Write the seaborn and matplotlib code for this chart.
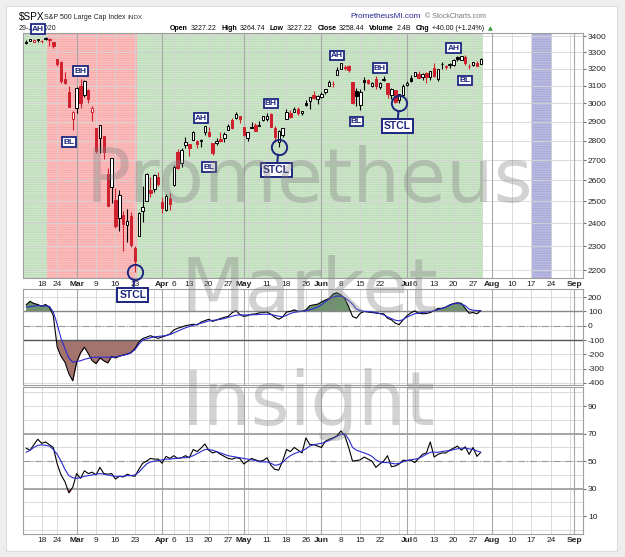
import numpy as np
import pandas as pd
import matplotlib
matplotlib.use("Agg")
import matplotlib.pyplot as plt
import seaborn as sns
from matplotlib.patches import Rectangle
from matplotlib.ticker import FixedLocator, NullLocator, FuncFormatter

# ---------------- data ----------------
cal_start, cal_end = "2020-02-11", "2020-09-04"
market_holidays = ["2020-02-17", "2020-04-10", "2020-05-25", "2020-07-03", "2020-09-07"]

prev_close0 = 3352.1
opens = [3365.9,3370.5,3365.9,3378.1,3369.0,3380.4,3380.5,3360.5,3257.6,3238.9,3139.9,3062.5,2916.9,
 2974.3,3096.5,3045.8,3075.7,2954.2,2863.9,2813.5,2825.6,2630.9,2570.0,2508.6,2425.7,2436.5,2393.5,2431.9,2290.7,2344.4,2457.8,2501.3,2555.9,2559.0,2614.7,
 2498.1,2458.5,2514.9,2578.3,2738.7,2685.0,2777.0,2782.5,2805.1,2795.6,2799.3,2842.4,2845.6,2784.8,2787.9,2810.4,2812.6,2854.7,2910.0,2918.5,2930.9,
 2869.1,2815.0,2868.9,2883.1,2878.3,2908.8,2915.5,2939.5,2865.9,2794.5,2830.0,2913.9,2948.6,2953.6,2970.0,2948.1,3004.1,3015.7,3046.6,3025.2,
 3038.8,3064.2,3098.9,3111.6,3163.8,3199.9,3213.3,3213.4,3123.5,3071.0,2993.8,3131.0,3136.1,3101.6,3140.3,3094.4,3138.7,3114.4,3046.6,3073.2,3018.6,3050.2,
 3105.9,3143.6,3155.3,3166.4,3153.1,3176.2,3152.5,3205.1,3141.1,3226.0,3208.4,3224.2,3224.3,3268.5,3254.9,3271.6,3218.6,3219.8,3234.3,3227.2]
highs = [3375.6,3381.5,3385.1,3380.7,3375.0,3393.5,3389.2,3360.8,3259.8,3246.9,3182.5,3097.1,2959.7,
 3091.0,3136.7,3131.0,3083.0,2985.9,2863.9,2882.6,2825.6,2661.0,2711.3,2563.0,2553.9,2453.6,2467.0,2453.0,2300.7,2449.7,2571.4,2637.0,2615.9,2631.8,2641.4,
 2522.8,2533.2,2538.2,2676.9,2756.9,2760.8,2818.6,2782.5,2851.9,2801.9,2806.5,2879.2,2869.0,2785.5,2815.1,2844.9,2842.7,2887.7,2921.2,2954.9,2930.9,
 2869.1,2844.2,2898.2,2891.1,2901.9,2932.2,2944.3,2945.8,2874.1,2852.8,2865.0,2968.1,2964.2,2980.3,2978.5,2956.8,3021.7,3036.3,3068.7,3049.2,
 3062.2,3081.1,3130.9,3128.9,3211.7,3233.1,3222.7,3223.3,3123.5,3088.4,3079.8,3153.5,3141.2,3120.0,3155.5,3120.9,3154.9,3115.0,3086.3,3073.7,3053.9,3111.5,
 3128.4,3165.8,3182.6,3184.2,3171.8,3179.8,3186.8,3235.3,3201.0,3238.3,3220.4,3233.5,3258.6,3277.3,3279.3,3280.0,3227.3,3241.4,3243.7,3264.7]
lows = [3352.7,3369.7,3360.5,3366.2,3355.6,3378.8,3341.0,3328.5,3214.7,3118.8,3109.0,2977.4,2855.8,
 2945.2,2976.6,3034.4,2999.8,2901.5,2734.4,2734.0,2707.2,2478.9,2492.4,2380.9,2367.0,2280.5,2319.8,2295.6,2191.9,2344.4,2407.5,2500.7,2520.0,2545.3,2571.2,
 2447.5,2455.8,2460.0,2574.6,2657.7,2663.3,2762.4,2721.2,2805.1,2761.5,2764.3,2830.9,2820.4,2727.1,2776.0,2794.3,2791.8,2852.9,2860.7,2912.2,2892.5,
 2821.6,2797.9,2863.6,2847.7,2876.5,2902.9,2903.4,2869.6,2793.2,2766.6,2816.8,2913.9,2922.4,2953.6,2938.6,2933.6,2988.2,2969.8,3023.4,2998.6,
 3031.5,3051.6,3098.9,3090.4,3163.8,3196.0,3193.1,3181.5,2999.5,2984.5,2965.7,3076.1,3108.0,3093.5,3083.1,3079.4,3127.1,3032.1,3024.0,3004.6,2999.7,3047.8,
 3101.2,3124.5,3155.3,3142.9,3136.5,3115.7,3136.2,3149.4,3127.7,3200.8,3198.6,3205.7,3215.2,3247.8,3253.1,3222.7,3200.1,3214.3,3216.2,3227.2]
closes = [3357.8,3379.5,3373.9,3380.2,3370.3,3386.2,3373.2,3337.8,3225.9,3128.2,3116.4,2978.8,2954.2,
 3090.2,3003.4,3130.1,3023.9,2972.4,2746.6,2882.2,2741.4,2480.6,2711.0,2386.1,2529.2,2398.1,2409.4,2304.9,2237.4,2447.3,2475.6,2630.1,2541.5,2626.7,2584.6,
 2470.5,2526.9,2488.7,2663.7,2659.4,2750.0,2789.8,2761.6,2846.1,2783.4,2799.6,2874.6,2823.2,2736.6,2799.3,2797.8,2836.7,2878.5,2863.4,2939.5,2912.4,
 2830.7,2842.7,2868.4,2848.4,2881.2,2929.8,2930.3,2870.1,2820.0,2852.5,2863.7,2953.9,2922.9,2971.6,2948.5,2955.5,2991.8,3036.1,3029.7,3044.3,
 3055.7,3080.8,3122.9,3112.4,3193.9,3232.4,3207.2,3190.1,3002.1,3041.3,3066.6,3124.7,3113.5,3115.3,3097.7,3117.9,3131.3,3050.3,3083.8,3009.1,3053.2,3100.3,
 3115.9,3130.0,3179.7,3145.3,3169.9,3152.1,3185.0,3155.2,3197.5,3226.6,3215.6,3224.7,3251.8,3257.3,3276.0,3235.7,3215.6,3239.4,3218.4,3258.4]

cci = [145,170,155,148,135,148,128,70,-150,-215,-255,-335,-385,
 -255,-190,-150,-195,-245,-265,-225,-245,-260,-215,-225,-212,-205,-198,-188,-160,-115,-90,-80,-70,-80,-88,
 -78,-70,-58,-30,-18,-10,0,5,10,5,25,35,45,30,40,50,58,65,90,105,78,
 65,70,80,82,90,92,95,80,60,45,60,95,100,110,100,102,110,140,145,150,
 165,179,190,221,230,214,190,133,64,52,87,99,95,92,88,85,83,52,41,18,7,41,
 69,90,103,87,83,85,92,105,121,121,130,145,155,160,156,121,87,92,83,105]
cci_signal = [130,133,137,140,139,137,135,95,10,-90,-160,-225,-255,
 -250,-245,-235,-228,-222,-220,-220,-220,-220,-220,-218,-212,-207,-200,-188,-168,-130,-100,-92,-84,-78,-75,
 -72,-68,-62,-50,-38,-26,-15,-5,3,10,17,25,33,37,40,44,50,58,66,73,75,
 75,75,76,77,78,80,80,78,72,66,62,72,85,93,97,100,103,110,120,130,
 145,168,185,200,207,205,195,175,150,116,105,100,99,96,92,85,75,62,50,38,34,42,
 60,72,83,88,92,95,99,104,112,120,130,142,152,156,150,140,115,108,106,105]
rsi = [59.5,58,62,66,63,64,62,60,48,40,35,27,31,
 41,37.5,43,41,42,40,45.5,41,40.5,41,37,39,38.5,40.5,39.5,39,44,48.5,50,52,51.5,51.5,
 48.5,53.5,52,54,52,52.5,54,52.5,58.5,57,59.5,62.5,58,56,57,55,53.5,52,51.5,52.5,52,
 48,50,52,51,50,50.5,52.5,47,44,43.5,50,58.5,57,60,58,56,67,62,62,61,
 60,64.5,66,67,68.5,72,68.5,60,50,50.5,51,53,51.5,50,45.5,48,50,54,46,46.5,48,50.7,
 50.5,50.7,49,52,55,56,64,53,55,56,56,58,59.5,61,58,60.5,55,60,53.5,56.5]
rsi_signal = [56.5,58,60,61.5,62,61.5,61,58.5,55,50,44,39.5,38,
 37.5,38,39,39.5,40,40.5,41,40.5,40,39.5,39,39,39,39.5,39.5,40,42,45,48,49.5,50,50.5,
 51,51.5,51.5,52,52,52.5,52.5,53,54,55.5,57,58.5,58.5,58,57,56,55,54,53.5,53,52.5,
 52,51.5,51,50.5,49.5,49.5,49.5,48.5,47,47.5,49,52,54,55.5,56.5,57.5,59,61,62,62.5,
 63,64,65,66.5,68,69.5,70,66,60,58,57,56,55,53.5,51,49.5,49,49,48.5,48,48.5,49.5,
 50.5,51,51.5,52,53.5,55,56.5,56.5,56.5,57,57.5,57.5,58.5,59,59.5,59.5,59,58.5,57.5,56.5]

tick_dates = ["2020-02-18","2020-02-24","2020-03-02","2020-03-09","2020-03-16","2020-03-23","2020-04-01",
 "2020-04-06","2020-04-13","2020-04-20","2020-04-27","2020-05-01","2020-05-11","2020-05-18","2020-05-26",
 "2020-06-01","2020-06-08","2020-06-15","2020-06-22","2020-07-01","2020-07-06","2020-07-13","2020-07-20",
 "2020-07-27","2020-08-03","2020-08-10","2020-08-17","2020-08-24","2020-09-01"]
tick_labels = ["18","24","Mar","9","16","23","Apr","6","13","20","27","May","11","18","26","Jun","8","15","22",
 "Jul","6","13","20","27","Aug","10","17","24","Sep"]

header_quote = [("Open", "3227.22"), ("High", "3264.74"), ("Low", "3227.22"), ("Close", "3258.44"),
                ("Volume", "2.4B"), ("Chg", "+40.00 (+1.24%)")]

# market regime shading (first date, last date)
regimes = [("up", "2020-02-11", "2020-02-19"), ("down", "2020-02-20", "2020-03-23"), ("up", "2020-03-24", "2020-07-29")]
future_window = ("2020-08-17", "2020-08-24")

# pattern labels: (text, date, price level)
labels = [("AH", "2020-02-14", 3445), ("BH", "2020-03-03", 3186), ("BL", "2020-02-27", 2791),
          ("AH", "2020-04-16", 2919), ("BL", "2020-04-20", 2665), ("BH", "2020-05-12", 2999),
          ("AH", "2020-06-05", 3279), ("BL", "2020-06-12", 2900), ("BH", "2020-06-22", 3203),
          ("AH", "2020-07-20", 3325), ("BL", "2020-07-23", 3130)]
stcl_dates = ["2020-03-23", "2020-05-14", "2020-06-29"]

# ---------------- style ----------------
sns.set_style("white")
plt.rcParams["font.family"] = ["Liberation Sans", "DejaVu Sans"]
plt.rcParams["hatch.linewidth"] = 0.45

W, H = 625, 557
fig = plt.figure(figsize=(W / 100, H / 100), dpi=100, facecolor="#eeeeee")
fig.patches.append(Rectangle((6 / W, 1 - 551 / H), (617 - 6) / W, (551 - 6) / H,
                             transform=fig.transFigure, facecolor="white", edgecolor="#dcdcdc", lw=0.8, zorder=-10))

def box(top, bottom):
    return [23 / W, 1 - bottom / H, (583 - 23) / W, (bottom - top) / H]

ax1 = fig.add_axes(box(33, 278))
ax2 = fig.add_axes(box(289, 385))
ax3 = fig.add_axes(box(387, 534))
ax1.set_zorder(3)

cal = pd.bdate_range(cal_start, cal_end)
cal = cal[~cal.isin(pd.to_datetime(market_holidays))]
pos = {d: i for i, d in enumerate(cal)}
P = lambda s: pos[pd.Timestamp(s)]
n = len(closes)
xi = np.arange(n)
XL = (-0.8, 143.3)

week_starts = [i for i in range(1, len(cal)) if cal[i].weekday() < cal[i - 1].weekday()]
month_starts = [i for i in range(1, len(cal)) if cal[i].month != cal[i - 1].month]
tick_idx = [P(d) for d in tick_dates]

navy = "#1c2680"
red = "#d0202e"

for ax in (ax1, ax2, ax3):
    ax.set_xlim(*XL)
    ax.set_facecolor("white")
    for s in ax.spines.values():
        s.set_color("#a0a0a0")
        s.set_linewidth(0.8)
    for w in week_starts:
        ax.axvline(w, color="#d4d4d4", lw=0.6, zorder=0.6)
    for m in month_starts:
        ax.axvline(m, color="#a8a8a8", lw=0.8, zorder=0.6)
    ax.set_axisbelow(True)
    ax.yaxis.tick_right()
    ax.tick_params(axis="y", which="major", labelsize=6, length=2, pad=1.5, color="#777", labelcolor="#222")
    ax.set_xticks(tick_idx)
    ax.set_xticklabels(tick_labels)
    ax.tick_params(axis="x", which="major", length=0, pad=2.2, labelsize=6, labelcolor="#222")
    for t, lab in zip(ax.get_xticklabels(), tick_labels):
        if lab.isalpha():
            t.set_fontweight("bold")
ax2.tick_params(axis="x", labelbottom=False)

# ---------------- price panel ----------------
ax1.set_yscale("log")
ax1.set_ylim(2168, 3420)
ax1.yaxis.set_major_locator(FixedLocator(np.arange(2200, 3401, 100)))
ax1.yaxis.set_major_formatter(FuncFormatter(lambda v, _: f"{v:.0f}"))
ax1.yaxis.set_minor_locator(NullLocator())
ax1.grid(axis="y", color="#d4d4d4", lw=0.6)

shade = {"up": ("#cde6c9", "#b4d8b0"), "down": ("#fdbcbc", "#f3a3a3")}
for k, (kind, a, b) in enumerate(regimes):
    x0 = XL[0] if k == 0 else P(a) - 0.5
    fc, hc = shade[kind]
    ax1.axvspan(x0, P(b) + 0.5, facecolor=fc, edgecolor=hc, hatch="-------", lw=0, zorder=0.2)
ax1.axvspan(P(future_window[0]) + 0.3, P(future_window[1]) + 0.2, facecolor="#b9b9e2", edgecolor="#a2a2d4",
            hatch="-------", lw=0, zorder=0.2)

o, h, l, c = (np.array(v, float) for v in (opens, highs, lows, closes))
prev = np.r_[prev_close0, c[:-1]]
edge = np.where(c >= prev, "black", red)
fillc = np.where(c > o, "white", edge)
ax1.vlines(xi, l, h, colors=edge, lw=0.8, zorder=3)
ax1.bar(xi, np.maximum(np.abs(c - o), 1.5), bottom=np.minimum(o, c), width=0.62,
        color=fillc, edgecolor=edge, linewidth=0.7, zorder=4)

bb = dict(boxstyle="square,pad=0.15", fc="white", ec=navy, lw=1.3)
for txt, d, lvl in labels:
    ax1.text(P(d), lvl, txt, ha="center", va="center", fontsize=6, fontweight="bold", color=navy,
             bbox=bb, zorder=8, clip_on=False)
for d in stcl_dates:
    i = P(d)
    ax1.plot([i], [lows[i]], marker="o", ms=11, mfc="none", mec=navy, mew=1.4, clip_on=False, zorder=9)
    ax1.annotate("STCL", xy=(i, lows[i]), xytext=(-1.5, -16.5), textcoords="offset points",
                 ha="center", va="center", fontsize=7.5, fontweight="bold", color=navy,
                 bbox=dict(boxstyle="square,pad=0.2", fc="white", ec=navy, lw=1.4),
                 arrowprops=dict(arrowstyle="-", color=navy, lw=1.4, shrinkA=0, shrinkB=5.5),
                 annotation_clip=False, zorder=9)

# ---------------- oscillator panel ----------------
cci_a, sig_a = np.array(cci, float), np.array(cci_signal, float)
ax2.set_ylim(-414, 256)
ax2.yaxis.set_major_locator(FixedLocator(np.arange(-400, 201, 100)))
ax2.yaxis.set_major_formatter(FuncFormatter(lambda v, _: f"{v:.0f}"))
ax2.grid(axis="y", color="#d4d4d4", lw=0.6)
ax2.fill_between(xi, cci_a, 100, where=cci_a > 100, interpolate=True, color="#6f936c", lw=0, zorder=1)
ax2.fill_between(xi, cci_a, -100, where=cci_a < -100, interpolate=True, color="#a3736e", lw=0, zorder=1)
ax2.axhline(100, color="#888888", lw=1.0, zorder=1.5)
ax2.axhline(0, color="#999999", lw=0.8, ls="-.", zorder=1.5)
ax2.axhline(-100, color="#555555", lw=1.0, zorder=1.5)
sns.lineplot(x=xi, y=cci_a, ax=ax2, color="black", lw=0.8, legend=False, zorder=3)
sns.lineplot(x=xi, y=sig_a, ax=ax2, color="#2a2ad0", lw=0.8, legend=False, zorder=3)

# ---------------- RSI panel ----------------
rsi_a, rsig_a = np.array(rsi, float), np.array(rsi_signal, float)
ax3.set_ylim(-3, 104)
ax3.yaxis.set_major_locator(FixedLocator([10, 30, 50, 70, 90]))
ax3.yaxis.set_minor_locator(FixedLocator(np.arange(0, 101, 10)))
ax3.yaxis.set_major_formatter(FuncFormatter(lambda v, _: f"{v:.0f}"))
ax3.grid(axis="y", which="both", color="#d4d4d4", lw=0.6)
ax3.tick_params(axis="y", which="minor", length=0)
ax3.fill_between(xi, rsi_a, 30, where=rsi_a < 30, interpolate=True, color=red, lw=0, zorder=1)
ax3.axhline(70, color="#a0a0a0", lw=1.3, zorder=1.5)
ax3.axhline(50, color="#999999", lw=0.8, ls="-.", zorder=1.5)
ax3.axhline(30, color="#a0a0a0", lw=1.3, zorder=1.5)
sns.lineplot(x=xi, y=rsi_a, ax=ax3, color="black", lw=0.8, legend=False, zorder=3)
sns.lineplot(x=xi, y=rsig_a, ax=ax3, color="#2a2ad0", lw=0.8, legend=False, zorder=3)
ax3.set_xticks(np.arange(0, 145), minor=True)
ax3.tick_params(axis="x", which="minor", length=1.5, color="#aaaaaa")
for ax in (ax1, ax2, ax3):
    ax.set_xlim(*XL)
    ax.set_xlabel("")
    ax.set_ylabel("")

# ---------------- header ----------------
def ft(xp, yp, s, **kw):
    kw.setdefault("va", "center")
    kw.setdefault("zorder", 1)
    return fig.text(xp / W, 1 - yp / H, s, **kw)

ft(19, 17, "$SPX", fontsize=7.2, color="black")
ft(44, 17.5, "S&P 500 Large Cap Index", fontsize=5.0, color="#222")
ft(127, 17.5, "INDX", fontsize=4.6, color="#333")
ft(350, 17, "PrometheusMI.com", fontsize=5.9, color="#23238e")
ft(425, 17, "© StockCharts.com", fontsize=5.0, color="#777777")
ft(19, 29, "29-Jul-2020", fontsize=5.0, color="#222")

rend = fig.canvas.get_renderer()
xcur = 170
for lab, val in header_quote:
    t = ft(xcur, 29, lab, fontsize=5.0, color="black", fontweight="bold")
    xcur += t.get_window_extent(renderer=rend).width + 2.5
    t = ft(xcur, 29, val, fontsize=5.0, color="#111")
    xcur += t.get_window_extent(renderer=rend).width + 5
ft(xcur - 2, 29, "▲", fontsize=4.5, color="#2e9e3e", family=["DejaVu Sans"])

# ---------------- watermark ----------------
for yb, word in [(202, "Prometheus"), (312, "Market"), (425, "Insight")]:
    fig.text(309 / W, 1 - yb / H, word, fontsize=54, family=["DejaVu Sans"], color="#808080",
             alpha=0.35, ha="center", va="baseline", zorder=20)

fig.savefig("out.png", dpi=100, facecolor=fig.get_facecolor())
